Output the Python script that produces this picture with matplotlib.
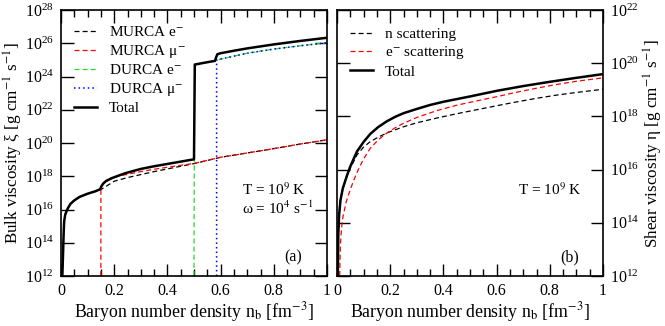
import numpy as np
import matplotlib
matplotlib.use("Agg")
import matplotlib.pyplot as plt
from matplotlib.ticker import MultipleLocator, FixedLocator, LogFormatterMathtext, FuncFormatter

plt.rcParams['font.family'] = ['Liberation Serif', 'DejaVu Serif']
plt.rcParams['mathtext.fontset'] = 'stix'

# ---- panel (a): bulk viscosity, values as log10
tot_x = [0.005, 0.008, 0.010, 0.012, 0.016, 0.025, 0.035, 0.05, 0.07, 0.10, 0.13, 0.147,
         0.152, 0.159, 0.17, 0.19, 0.21, 0.241, 0.3, 0.35, 0.4, 0.45, 0.5, 0.503,
         0.52, 0.55, 0.579, 0.583, 0.588, 0.6, 0.65, 0.7, 0.8, 0.9, 1.0]
tot_l = [12, 13.5, 14.6, 15.3, 15.7, 16.05, 16.33, 16.55, 16.76, 16.95, 17.1, 17.22,
         17.4, 17.57, 17.72, 17.88, 18.0, 18.18, 18.44, 18.6, 18.74, 18.88, 19.02, 24.72,
         24.77, 24.86, 24.94, 25.15, 25.34, 25.4, 25.55, 25.69, 25.93, 26.14, 26.33]

mue_x = [0.005, 0.008, 0.010, 0.012, 0.016, 0.025, 0.035, 0.05, 0.07, 0.10, 0.13, 0.15,
         0.2, 0.25, 0.3, 0.35, 0.4, 0.45, 0.5, 0.6, 0.7, 0.8, 0.9, 1.0]
mue_l = [12, 13.5, 14.6, 15.3, 15.7, 16.05, 16.33, 16.55, 16.76, 16.95, 17.1, 17.2,
         17.7, 17.92, 18.1, 18.28, 18.44, 18.6, 18.76, 19.14, 19.4, 19.66, 19.94, 20.19]

mumu_x = [0.15, 0.15, 0.155, 0.165, 0.2, 0.25, 0.3, 0.35, 0.4, 0.45, 0.5, 0.6, 0.7, 0.8, 0.9, 1.0]
mumu_l = [12, 17.2, 17.45, 17.62, 17.95, 18.12, 18.28, 18.42, 18.54, 18.66, 18.77,
          19.14, 19.4, 19.66, 19.94, 20.19]

due_x = [0.5, 0.502, 0.52, 0.55, 0.58, 0.6, 0.7, 0.8, 0.9, 1.0]
due_l = [12, 24.68, 24.75, 24.85, 24.94, 25.05, 25.4, 25.65, 25.85, 26.03]

dumu_x = [0.585, 0.585, 0.6, 0.7, 0.8, 0.9, 1.0]
dumu_l = [12, 25.0, 25.05, 25.4, 25.65, 25.85, 26.03]

# ---- panel (b): shear viscosity, values as log10
stot_x = [0.003, 0.005, 0.008, 0.013, 0.022, 0.0376, 0.05, 0.075, 0.1, 0.125, 0.155,
          0.188, 0.22, 0.25, 0.3, 0.35, 0.4, 0.5, 0.6, 0.7, 0.8, 0.9, 1.0]
stot_l = [12, 13.6, 14.3, 14.85, 15.3, 15.78, 16.12, 16.68, 17.04, 17.34, 17.6,
          17.82, 17.99, 18.12, 18.28, 18.43, 18.55, 18.75, 18.96, 19.14, 19.3, 19.45, 19.59]

sn_x = [0.003, 0.005, 0.008, 0.013, 0.022, 0.0376, 0.05, 0.075, 0.1, 0.125, 0.155,
        0.188, 0.22, 0.25, 0.3, 0.376, 0.45, 0.5, 0.6, 0.662, 0.75, 0.825, 0.9, 1.0]
sn_l = [12, 13.6, 14.3, 14.85, 15.3, 15.76, 16.05, 16.55, 16.85, 17.05, 17.22,
        17.38, 17.5, 17.61, 17.76, 17.94, 18.1, 18.2, 18.4, 18.52, 18.68, 18.8, 18.9, 19.02]

se_x = [0.01, 0.013, 0.017, 0.0225, 0.035, 0.05, 0.063, 0.08, 0.1, 0.125, 0.155, 0.188,
        0.22, 0.25, 0.3, 0.376, 0.45, 0.5, 0.6, 0.662, 0.75, 0.825, 0.9, 1.0]
se_l = [12, 13.2, 13.8, 14.23, 14.8, 15.25, 15.6, 16.0, 16.4, 16.8, 17.12, 17.38,
        17.58, 17.74, 17.96, 18.22, 18.42, 18.53, 18.74, 18.88, 19.06, 19.2, 19.32, 19.45]

left_ticks = [1e12, 1e14, 1e16, 1e18, 1e20, 1e22, 1e24, 1e26, 1e28]
right_ticks = [1e12, 1e14, 1e16, 1e18, 1e20, 1e22]


def p(l):
    return 10.0 ** np.array(l)


fig = plt.figure(figsize=(6.65, 3.26), dpi=100)
ax1 = fig.add_axes([61 / 665, 50 / 326, 266 / 665, 266 / 326])
ax2 = fig.add_axes([337 / 665, 50 / 326, 266 / 665, 266 / 326])

ds = (4, 2.5)
ax1.plot(mue_x, p(mue_l), color='black', lw=0.9, dashes=ds, label='MURCA e$^{-}$')
ax1.plot(mumu_x, p(mumu_l), color='red', lw=0.9, dashes=ds, label='MURCA μ$^{-}$')
ax1.plot(due_x, p(due_l), color='#22dd22', lw=0.9, dashes=ds, label='DURCA e$^{-}$')
ax1.plot(dumu_x, p(dumu_l), color='blue', lw=1.1, dashes=(1, 2), label='DURCA μ$^{-}$')
ax1.plot(tot_x, p(tot_l), color='black', lw=1.8, label='Total')

ax2.plot(sn_x, p(sn_l), color='black', lw=0.9, dashes=ds, label='n scattering')
ax2.plot(se_x, p(se_l), color='red', lw=0.9, dashes=ds, label='e$^{-}$ scattering')
ax2.plot(stot_x, p(stot_l), color='black', lw=1.8, label='Total')

fmt = FuncFormatter(lambda v, pos: '%g' % v)
for ax, ticks, ly in ((ax1, left_ticks, 0.942), (ax2, right_ticks, 0.935)):
    ax.set_yscale('log')
    ax.set_xlim(0, 1)
    ax.set_ylim(ticks[0], ticks[-1])
    ax.yaxis.set_major_locator(FixedLocator(ticks))
    ax.yaxis.set_major_formatter(LogFormatterMathtext())
    ax.yaxis.set_minor_locator(FixedLocator([]))
    ax.xaxis.set_major_locator(MultipleLocator(0.2))
    ax.xaxis.set_minor_locator(MultipleLocator(0.05))
    ax.xaxis.set_major_formatter(fmt)
    ax.tick_params(which='both', direction='in', top=True, right=True, left=True,
                   labelsize=11.5, width=1)
    ax.tick_params(which='major', length=9, pad=5)
    ax.tick_params(which='minor', length=5)
    for s in ax.spines.values():
        s.set_linewidth(1.2)
    ax.set_xlabel('Baryon number density n$_{\\mathrm{b}}$ [fm$^{-3}$]', fontsize=12.8, labelpad=1)
    ax.legend(loc='upper left', bbox_to_anchor=(0.05, ly), frameon=False, fontsize=11,
              handlelength=1.5, borderaxespad=0, borderpad=0, labelspacing=0.23,
              handletextpad=0.75)

ax2.tick_params(labelleft=False, labelright=True)
ax2.yaxis.set_label_position('right')

ax1.set_ylabel('Bulk viscosity ξ [g cm$^{-1}$ s$^{-1}$]', fontsize=12.3)
ax2.set_ylabel('Shear viscosity η [g cm$^{-1}$ s$^{-1}$]', fontsize=12.3)
ax1.yaxis.set_label_coords(-0.136, 0.5)
ax2.yaxis.set_label_coords(1.145, 0.5)

ax1.text(0.68, 0.325, 'T = 10$^{9}$ K', transform=ax1.transAxes, fontsize=11, va='center')
ax1.text(0.68, 0.255, 'ω = 10$^{4}$ s$^{-1}$', transform=ax1.transAxes, fontsize=11, va='center')
ax1.text(0.84, 0.07, '(a)', transform=ax1.transAxes, fontsize=11.5, va='center')
ax2.text(0.68, 0.325, 'T = 10$^{9}$ K', transform=ax2.transAxes, fontsize=11, va='center')
ax2.text(0.84, 0.07, '(b)', transform=ax2.transAxes, fontsize=11.5, va='center')

fig.savefig('out.png', dpi=100)
